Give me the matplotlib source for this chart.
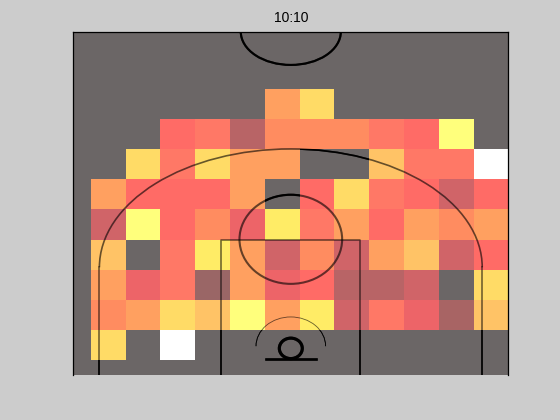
import numpy as np
import matplotlib

matplotlib.use('Agg')
import matplotlib.pyplot as plt
from matplotlib.colors import LinearSegmentedColormap
from matplotlib.patches import Arc, Ellipse

TITLE = '10:10'
N = np.nan

# zone grid edges in court units (x: -250..250, y: -47.5..422.5)
x_edges = np.arange(-230, 251, 40)
y_edges = np.linspace(-27, 344, 10)

# zone level per cell, top row first, nan = no data
zone_levels = [
    [N, N, N, N, N, 9, 11, N, N, N, N, N],
    [N, N, 6, 7, 3, 8, 8, 8, 7, 6, 13, N],
    [N, 11, 7, 11, 9, 9, N, N, 10, 7, 7, 14],
    [9, 6, 6, 6, 9, N, 6, 11, 7, 6, 4, 6],
    [4, 13, 6, 8, 5, 12, 7, 9, 6, 9, 8, 9],
    [10, N, 7, 12, 9, 4, 8, 4, 9, 10, 4, 6],
    [9, 5, 7, 1, 9, 5, 6, 3, 3, 4, N, 11],
    [8, 9, 11, 10, 13, 9, 12, 4, 7, 5, 2, 10],
    [11, N, 14, N, N, N, N, N, N, N, N, N],
]

level_colors = ['#9a6666', '#a86464', '#b86466', '#d06468', '#ee6468',
                '#ff6b66', '#ff7866', '#ff8c60', '#ffa060', '#ffc266',
                '#ffdb66', '#ffec66', '#ffff78', '#ffffff']


def draw_court(ax, alpha, zorder):
    kw = dict(color='black', alpha=alpha, zorder=zorder)
    # hoop, backboard, restricted area
    ax.add_patch(Ellipse((0, -11), 26.4, 28, fill=False, lw=2.2, **kw))
    ax.plot([-29, 29], [-26, -26], lw=1.8, **kw)
    ax.add_patch(Arc((0, -8), 80, 80, theta1=0, theta2=180, lw=0.6, **kw))
    # paint + free throw circle
    ax.plot([-80, -80, 80, 80], [-47.5, 137.3, 137.3, -47.5], lw=1.1, **kw)
    ax.add_patch(Ellipse((0, 138.3), 118, 122, fill=False, lw=1.5, **kw))
    # three point line
    ax.plot([-220, -220], [-47.5, 100], lw=1.1, **kw)
    ax.plot([220, 220], [-47.5, 100], lw=1.1, **kw)
    ax.add_patch(Arc((0, 100), 440, 324, theta1=0, theta2=180, lw=1.2, **kw))
    # half court circle
    ax.add_patch(Ellipse((0, 422.5), 115, 91, fill=False, lw=1.5, **kw))


fig = plt.figure(figsize=(5.6, 4.2), dpi=100, facecolor='#cccccc')
ax = fig.add_axes([0.1309, 0.1071, 0.7768, 0.8174])
ax.set_facecolor('#6b6666')

cmap = LinearSegmentedColormap.from_list('zones', level_colors)
levels = np.flipud(np.array(zone_levels, dtype=float))

draw_court(ax, 1.0, 1)
ax.pcolormesh(x_edges, y_edges, np.ma.masked_invalid(levels),
              cmap=cmap, vmin=1, vmax=len(level_colors), zorder=2)
draw_court(ax, 0.6, 3)

ax.set_xlim(-250, 250)
ax.set_ylim(-47.5, 422.5)
ax.set_xticks([])
ax.set_yticks([])
ax.spines['bottom'].set_visible(False)
for side in ['top', 'left', 'right']:
    ax.spines[side].set_linewidth(0.9)
ax.set_title(TITLE, family='Liberation Sans', fontsize=10, pad=7)

fig.savefig('out.png', dpi=100, facecolor=fig.get_facecolor())
